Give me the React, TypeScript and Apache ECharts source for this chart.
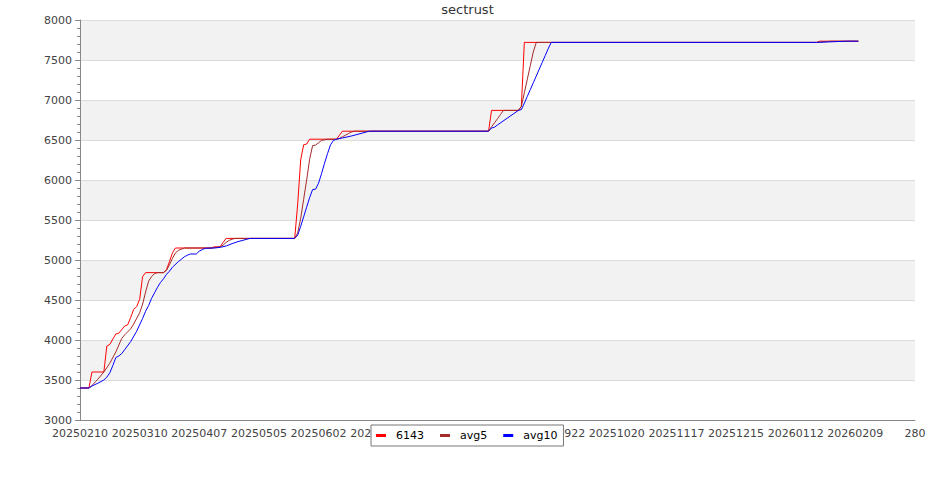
import React, { useEffect, useRef } from "react";
import * as echarts from "echarts";

const FONT = "DejaVu Sans";

const seriesNames = ["6143", "avg5", "avg10"];
const seriesColors = ["#ff0000", "#a52a2a", "#0000ff"];

const xTickLabels = [
  "20250210", "20250310", "20250407", "20250505", "20250602", "20250630", "20250728",
  "20250825", "20250922", "20251020", "20251117", "20251215", "20260112", "20260209", "280",
];

// [trading-day index, value]
const series6143: [number, number][] = [
  [0, 3400], [3, 3400], [4, 3600], [8, 3600], [9, 3925], [10, 3945], [12, 4075], [13, 4085],
  [15, 4175], [16, 4190], [17, 4283], [18, 4383], [19, 4417], [20, 4508], [21, 4792], [22, 4842],
  [28, 4842], [29, 4880], [30, 4980], [31, 5090], [32, 5150], [44, 5150], [45, 5165], [47, 5165],
  [48, 5220], [49, 5270], [72, 5270], [73, 5700], [74, 6250], [75, 6440], [76, 6450], [77, 6510],
  [86, 6510], [87, 6560], [88, 6610], [137, 6610], [138, 6870], [147, 6870], [148, 6920], [149, 7720],
  [247, 7720], [248, 7735], [261, 7735],
];

const seriesAvg5: [number, number][] = [
  [0, 3400], [3, 3400], [4, 3430], [6, 3510], [8, 3600], [10, 3710], [12, 3850], [14, 4020],
  [15, 4065], [17, 4140], [18, 4200], [20, 4340], [21, 4450], [22, 4600], [23, 4735], [24, 4792],
  [25, 4830], [26, 4842], [28, 4842], [29, 4870], [30, 4940], [31, 5020], [32, 5090], [33, 5120],
  [35, 5150], [44, 5150], [45, 5153], [47, 5165], [48, 5185], [49, 5220], [50, 5245], [51, 5260],
  [52, 5270], [72, 5270], [73, 5340], [74, 5520], [75, 5760], [76, 6000], [77, 6260], [78, 6430],
  [79, 6437], [80, 6465], [81, 6495], [83, 6510], [86, 6510], [87, 6520], [88, 6540], [89, 6560],
  [90, 6580], [91, 6600], [92, 6610], [137, 6610], [138, 6665], [139, 6715], [140, 6766], [141, 6818],
  [142, 6870], [147, 6870], [148, 6920], [149, 7090], [150, 7260], [151, 7430], [152, 7600], [153, 7720],
  [247, 7720], [248, 7723], [252, 7735], [261, 7735],
];

const seriesAvg10: [number, number][] = [
  [0, 3400], [3, 3400], [4, 3425], [6, 3460], [8, 3500], [9, 3535], [10, 3590], [11, 3680],
  [12, 3780], [13, 3800], [14, 3830], [15, 3880], [17, 3980], [19, 4110], [21, 4270], [22, 4360],
  [23, 4430], [24, 4520], [25, 4590], [26, 4660], [27, 4720], [28, 4765], [29, 4820], [30, 4860],
  [31, 4910], [33, 4980], [35, 5040], [36, 5060], [37, 5075], [39, 5075], [40, 5110], [41, 5130],
  [42, 5146], [45, 5150], [47, 5158], [49, 5175], [51, 5205], [53, 5230], [55, 5250], [57, 5270],
  [72, 5270], [73, 5310], [74, 5420], [75, 5540], [76, 5660], [77, 5780], [78, 5880], [79, 5885],
  [80, 5960], [81, 6080], [82, 6210], [83, 6330], [84, 6440], [85, 6495], [86, 6510], [88, 6525],
  [91, 6550], [96, 6600], [97, 6610], [137, 6610], [138, 6650], [139, 6660], [140, 6688], [147, 6870],
  [148, 6880], [149, 6960], [150, 7045], [151, 7130], [152, 7215], [153, 7300], [154, 7385], [155, 7470],
  [156, 7555], [157, 7640], [158, 7720], [247, 7720], [257, 7735], [261, 7735],
];

const seriesData = [series6143, seriesAvg5, seriesAvg10];

export default function App() {
  const ref = useRef<HTMLDivElement>(null);
  useEffect(() => {
    if (!ref.current) return;
    const chart = echarts.init(ref.current, null, { renderer: "svg" });
    chart.setOption({
      animation: false,
      backgroundColor: "#ffffff",
      textStyle: { fontFamily: FONT },
      title: {
        text: "sectrust",
        left: "center",
        top: 2,
        padding: 0,
        textStyle: { fontSize: 13, fontWeight: "normal", color: "#333", fontFamily: FONT, lineHeight: 15 },
      },
      legend: {
        left: 371,
        top: 425,
        padding: [4, 6, 4, 5],
        itemGap: 16,
        itemWidth: 10,
        itemHeight: 3,
        icon: "rect",
        backgroundColor: "#ffffff",
        borderColor: "#777",
        borderWidth: 1,
        borderRadius: 0,
        textStyle: { fontSize: 11, color: "#000", fontFamily: FONT, padding: [0, 0, 0, 5], lineHeight: 13 },
        data: seriesNames,
      },
      grid: { left: 80, right: 20, top: 20, bottom: 80 },
      xAxis: {
        type: "value",
        min: 0,
        max: 280,
        interval: 20,
        axisLine: { show: true, lineStyle: { color: "#888" } },
        axisTick: { show: false },
        splitLine: { show: false },
        axisLabel: {
          formatter: (v: number) => xTickLabels[Math.round(v / 20)] ?? "",
          fontSize: 11,
          color: "#444",
          margin: 8,
          fontFamily: FONT,
        },
      },
      yAxis: {
        type: "value",
        min: 3000,
        max: 8000,
        interval: 500,
        axisLine: { show: true, lineStyle: { color: "#888" } },
        axisTick: { show: true, length: 5, lineStyle: { color: "#888" } },
        minorTick: { show: true, splitNumber: 5, length: 3, lineStyle: { color: "#888" } },
        splitLine: { show: true, lineStyle: { color: "#dcdcdc" } },
        splitArea: { show: true, areaStyle: { color: ["#ffffff", "#f2f2f2"] } },
        axisLabel: {
          fontSize: 11,
          color: "#444",
          margin: 8,
          fontFamily: FONT,
          formatter: (v: number) => String(v),
        },
      },
      series: seriesNames.map((name, i) => ({
        name,
        type: "line",
        data: seriesData[i],
        showSymbol: false,
        symbol: "none",
        color: seriesColors[i],
        lineStyle: { width: 1, color: seriesColors[i] },
        z: 2 + i,
      })),
    });
    return () => chart.dispose();
  }, []);
  return <div ref={ref} style={{ position: "absolute", left: 0, top: 0, width: 935, height: 500 }} />;
}
